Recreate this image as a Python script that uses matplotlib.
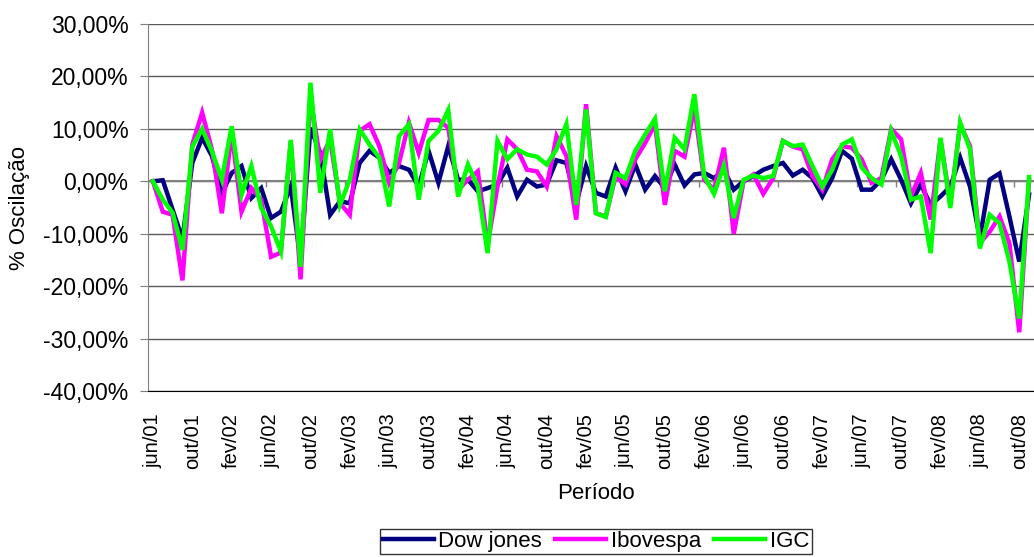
import numpy as np
import matplotlib
matplotlib.use("Agg")
import matplotlib.pyplot as plt
from matplotlib.ticker import FuncFormatter

# monthly oscillation (%), jun/01 .. nov/08
dowJones = [0, 0.2, -5.4, -11, 3.5, 8.3, 4.8, -2.2, 1.6, 2.9,
            -3.2, -1.3, -7, -5.8, -1, -15, 10.2, 5.4, -6.4, -3.8,
            -4.2, 3.5, 5.8, 4.5, 1.6, 2.9, 2.2, -1, 5.8, -0.3,
            6.7, 0.3, 0.3, -1.9, -1.3, -0.6, 2.6, -2.9, 0.3, -1,
            -0.6, 4, 3.5, -4.2, 2.9, -2.2, -2.9, 2.6, -1.9, 3.2,
            -1.6, 1, -1.3, 3.2, -0.8, 1.3, 1.6, 0.6, 2.2, -1.6,
            0, 1, 2.2, 2.9, 3.5, 1.1, 2.2, 0.6, -2.9, 0.6,
            5.8, 4.3, -1.6, -1.6, 0.3, 4.2, 0.3, -4.2, -0.6, -4.5,
            -2.9, -1, 4.5, -1, -10.9, 0.3, 1.5, -6.7, -15.3, -2.5]

ibovespa = [0, -5.8, -6.4, -18.9, 7, 13.1, 6, -6.1, 9.3, -5.8,
            -1.3, -3.5, -14.4, -13.6, 7.6, -18.7, 16, 4, 8, -4.2,
            -6.4, 9.6, 10.9, 6.7, -0.3, 3.5, 11.2, 5.4, 11.7, 11.7,
            10.2, -1.6, 0.3, 1.9, -12, -1, 8, 6.1, 2.2, 1.9,
            -1, 8.6, 4.8, -7.3, 14.7, -6.1, -6.7, 1, -0.6, 4.2,
            7.3, 10.9, -4.5, 5.8, 4.7, 14, 0.3, -1.6, 6.4, -10,
            0, 1.3, -2.4, 0.6, 7.7, 6.6, 6.1, 1, -1.6, 4.2,
            6.7, 6.4, 4.2, -0.3, 0.6, 10, 8, -2.9, 1.6, -7.3,
            8, -4.2, 10.9, 6.7, -11.8, -9.6, -6.7, -11.8, -28.8, 0.3]

igc = [0, -3.5, -6, -13.1, 6.6, 10, 5.7, 0.3, 10.5, -2.6,
       2.9, -5.1, -8.6, -13.4, 7.9, -16.3, 18.8, -2.2, 9.9, -4.5,
       0.3, 9.9, 7, 4.5, -4.8, 8.6, 10.9, -3.5, 7.7, 9.6,
       13.6, -2.9, 3.2, -1, -13.7, 7.7, 4.2, 6.1, 5.1, 4.7,
       3.2, 6.1, 10.9, -4.5, 13.7, -6.1, -6.8, 1.6, 0.6, 5.8,
       8.9, 11.9, -1.9, 8.3, 6.1, 16.6, 1, -2.4, 3, -7,
       0.3, 1.1, 0.6, 1, 7.7, 6.7, 7, 2.9, -1, 2.2,
       7, 8, 2.6, 0.6, -0.6, 9.6, 4.8, -3.5, -2.9, -13.7,
       8.3, -5.1, 11.2, 6.1, -12.8, -6.4, -8, -15.3, -26.2, 0.8]

tickLabels = ["jun/01", "out/01", "fev/02", "jun/02", "out/02", "fev/03",
              "jun/03", "out/03", "fev/04", "jun/04", "out/04", "fev/05",
              "jun/05", "out/05", "fev/06", "jun/06", "out/06", "fev/07",
              "jun/07", "out/07", "fev/08", "jun/08", "out/08"]

plt.rcParams['font.family'] = ['Liberation Sans', 'DejaVu Sans']

fig = plt.figure(figsize=(10.34, 5.57), dpi=100)
ax = fig.add_axes([148/1034, 1 - 391/557, 886/1034, 367/557])

x = np.arange(len(dowJones))
ax.plot(x, dowJones, color='#000080', lw=3.2, label='Dow jones', solid_joinstyle='miter')
ax.plot(x, ibovespa, color='#FF00FF', lw=3.2, label='Ibovespa', solid_joinstyle='miter')
ax.plot(x, igc, color='#00FF00', lw=3.2, label='IGC', solid_joinstyle='miter')

ax.set_xlim(-0.5, 89.5)
ax.set_ylim(-40, 30)
ax.set_yticks(np.arange(-40, 31, 10))
ax.yaxis.set_major_formatter(FuncFormatter(lambda v, p: ("%.2f%%" % v).replace(".", ",")))
ax.grid(axis='y', color='#5a5a5a', lw=1)
ax.set_axisbelow(True)

# category axis crosses at 0, labels kept low
ax.axhline(0, color='#808080', lw=1.5, zorder=1)
ax.vlines(np.arange(-0.5, 90, 4), -1.0, 0, color='#808080', lw=1, zorder=1)

ax.set_xticks(np.arange(0, 90, 4))
ax.set_xticklabels(tickLabels, rotation=90, fontsize=14.5)
ax.tick_params(axis='x', length=0, pad=16)
ax.tick_params(axis='y', length=6, color='#808080', labelsize=16.5, pad=8)

for s in ['top', 'right']:
    ax.spines[s].set_visible(False)
ax.spines['left'].set_color('#808080')
ax.spines['bottom'].set_color('black')

ax.set_xlabel("Período", fontsize=16)
ax.xaxis.set_label_coords(0.5056, -0.25)
ax.set_ylabel("% Oscilação", fontsize=16)
ax.yaxis.set_label_coords(-0.133, 0.5)

leg = ax.legend(loc='upper center', bbox_to_anchor=(0.5056, -0.375), ncol=3,
                fontsize=16, frameon=True, fancybox=False, handlelength=2.3,
                handletextpad=0.2, columnspacing=0.6, borderpad=0.1, borderaxespad=0)
leg.get_frame().set_edgecolor('black')
leg.get_frame().set_linewidth(1)

fig.savefig("out.png", dpi=100)
